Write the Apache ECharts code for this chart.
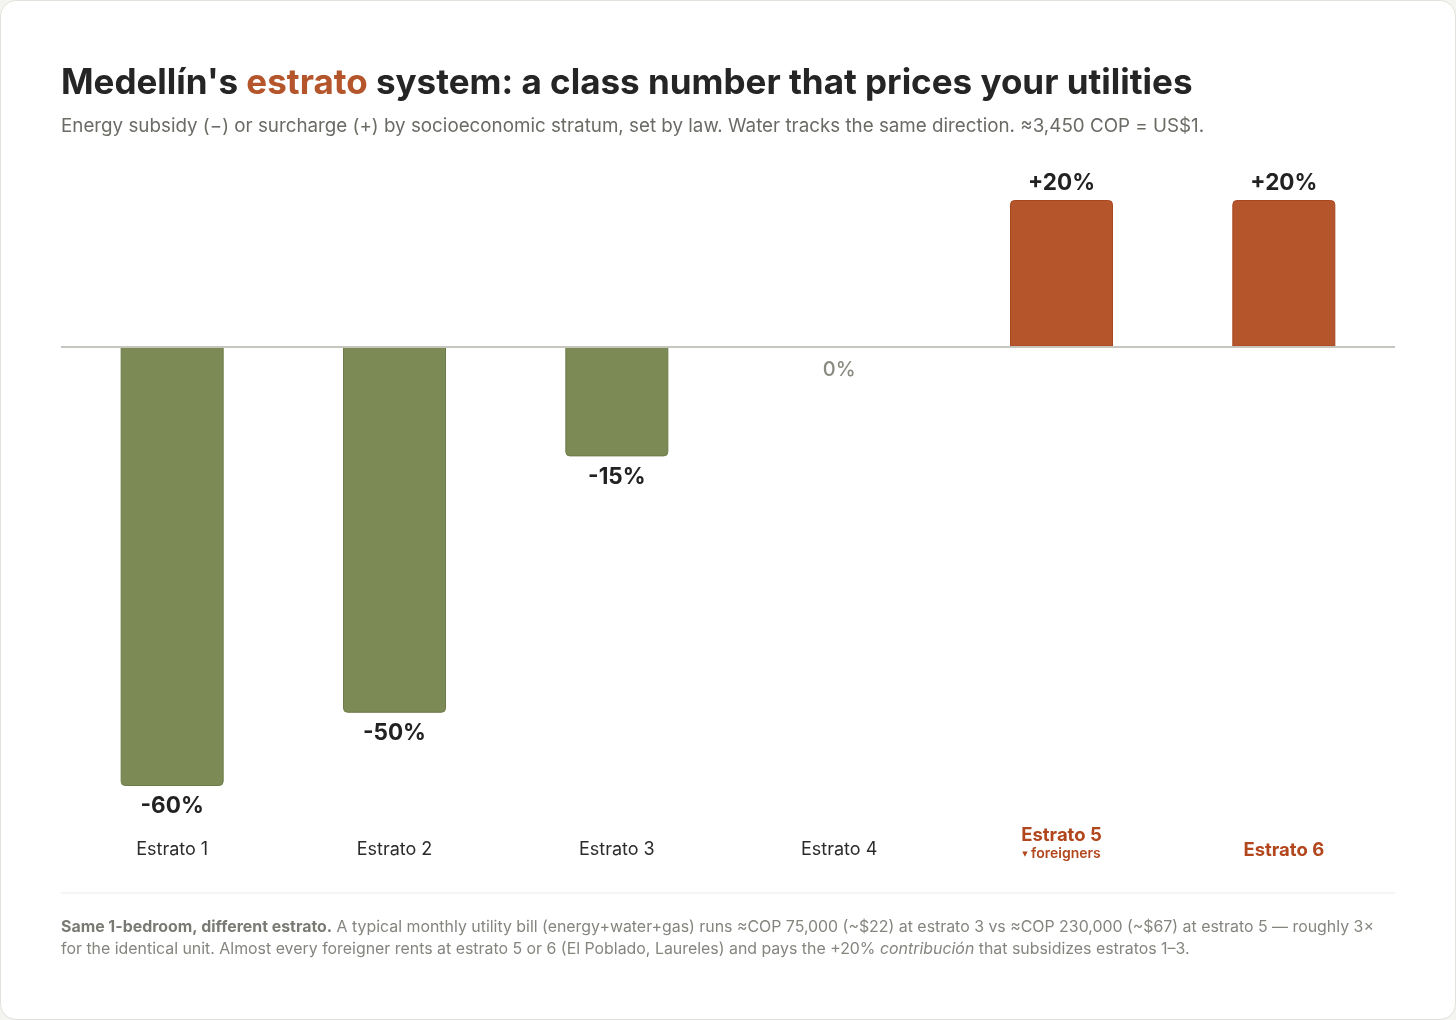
<!DOCTYPE html>
<html>
<head>
<meta charset="utf-8">
<script src="https://cdn.jsdelivr.net/npm/echarts@6/dist/echarts.min.js"></script>
<style>
  html, body { margin: 0; padding: 0; background: #f4f4f1; }
  #card { position: absolute; left: 0; top: 0; width: 1454px; height: 1018px; background: #ffffff;
          border: 1px solid #e2e2dc; border-radius: 16px; overflow: hidden; }
  #chart { width: 1454px; height: 1018px; }
</style>
</head>
<body>
<div id="card"><div id="chart"></div></div>
<script>
const categories = ['Estrato 1', 'Estrato 2', 'Estrato 3', 'Estrato 4', 'Estrato 5', 'Estrato 6'];
const values = [-60, -50, -15, 0, 20, 20];
const subLabels = ['', '', '', '', 'foreigners', ''];
const highlighted = [false, false, false, false, true, true];

const GREEN = '#7c8a56', GREEN_B = '#6d7b48';
const ORANGE = '#b5552b', ORANGE_B = '#a8471f';
const FONT = 'Inter, "Noto Sans", sans-serif';

const data = values.map(function (v) {
  const item = { value: v };
  if (v > 0) {
    item.itemStyle = { color: ORANGE, borderColor: ORANGE_B, borderWidth: 1, borderRadius: [4, 4, 0, 0] };
    item.label = { position: 'top', distance: 5 };
  } else if (v < 0) {
    item.itemStyle = { color: GREEN, borderColor: GREEN_B, borderWidth: 1, borderRadius: [0, 0, 4, 4] };
    item.label = { position: 'bottom', distance: 9 };
  } else {
    item.itemStyle = { color: 'transparent' };
    item.label = { position: 'bottom', distance: 13, color: '#8a8a80', fontWeight: 500, fontSize: 20 };
  }
  return item;
});

const chart = echarts.init(document.getElementById('chart'), null, { renderer: 'canvas' });
chart.setOption({
  animation: false,
  textStyle: { fontFamily: FONT },
  title: [
    {
      left: 60, top: 60, padding: 0,
      text: "{a|Medellín's }{b|estrato}{a| system: a class number that prices your utilities}",
      textStyle: {
        rich: {
          a: { fontFamily: FONT, fontSize: 35, fontWeight: 700, color: '#252525', lineHeight: 44 },
          b: { fontFamily: FONT, fontSize: 35, fontWeight: 700, color: ORANGE, lineHeight: 44 }
        }
      }
    },
    {
      left: 60, top: 113, padding: 0,
      text: 'Energy subsidy (−) or surcharge (+) by socioeconomic stratum, set by law. Water tracks the same direction. ≈3,450 COP = US$1.',
      textStyle: { fontFamily: FONT, fontSize: 18.8, fontWeight: 400, color: '#6b6b66', lineHeight: 24 }
    },
    {
      left: 60, top: 915, padding: 0,
      text: '{b|Same 1-bedroom, different estrato.}{n| A typical monthly utility bill (energy+water+gas) runs ≈COP 75,000 (~$22) at estrato 3 vs ≈COP 230,000 (~$67) at estrato 5 — roughly 3×}\n{n|for the identical unit. Almost every foreigner rents at estrato 5 or 6 (El Poblado, Laureles) and pays the +20% }{i|contribución}{n| that subsidizes estratos 1–3.}',
      textStyle: {
        rich: {
          b: { fontFamily: FONT, fontSize: 15.9, fontWeight: 700, color: '#7a7a74', lineHeight: 22 },
          n: { fontFamily: FONT, fontSize: 15.9, fontWeight: 400, color: '#85857f', lineHeight: 22 },
          i: { fontFamily: FONT, fontSize: 15.9, fontWeight: 400, fontStyle: 'italic', color: '#85857f', lineHeight: 22 }
        }
      }
    }
  ],
  graphic: [
    { type: 'line', shape: { x1: 60, y1: 892, x2: 1394, y2: 892 }, style: { stroke: '#ebebe7', lineWidth: 1 }, silent: true }
  ],
  grid: { left: 60, right: 60, top: 199, bottom: 233, containLabel: false },
  xAxis: {
    type: 'category',
    data: categories,
    axisLine: { show: false, onZero: false },
    axisTick: { show: false },
    axisLabel: {
      margin: 57,
      verticalAlign: 'middle',
      interval: 0,
      formatter: function (val, idx) {
        if (subLabels[idx]) return '{h|' + val + '}\n{ar|▼}{s| ' + subLabels[idx] + '}';
        if (highlighted[idx]) return '{hp|' + val + '}';
        return '{n|' + val + '}';
      },
      rich: {
        n: { fontFamily: FONT, fontSize: 18, color: '#2b2b2b', lineHeight: 22, padding: [14, 0, 0, 0] },
        hp: { fontFamily: FONT, fontSize: 18.5, fontWeight: 700, color: '#b2461c', lineHeight: 22, padding: [14, 0, 0, 0] },
        h: { fontFamily: FONT, fontSize: 18.5, fontWeight: 700, color: '#b2461c', lineHeight: 22 },
        ar: { fontFamily: '"DejaVu Sans", sans-serif', fontSize: 7, color: '#b2461c', lineHeight: 16 },
        s: { fontFamily: FONT, fontSize: 14, fontWeight: 600, color: '#b2461c', lineHeight: 16 }
      }
    }
  },
  yAxis: {
    type: 'value', min: -60, max: 20,
    show: false,
    splitLine: { show: false }
  },
  series: [{
    type: 'bar',
    data: data,
    barWidth: 103,
    label: {
      show: true,
      fontFamily: FONT,
      fontSize: 22.5,
      fontWeight: 700,
      color: '#222222',
      formatter: function (p) { return (p.value > 0 ? '+' : '') + p.value + '%'; }
    },
    markLine: {
      silent: true,
      symbol: 'none',
      label: { show: false },
      lineStyle: { color: '#c6c6bf', width: 2, type: 'solid' },
      data: [{ yAxis: 0 }]
    },
    z: 3
  }]
});
</script>
</body>
</html>
